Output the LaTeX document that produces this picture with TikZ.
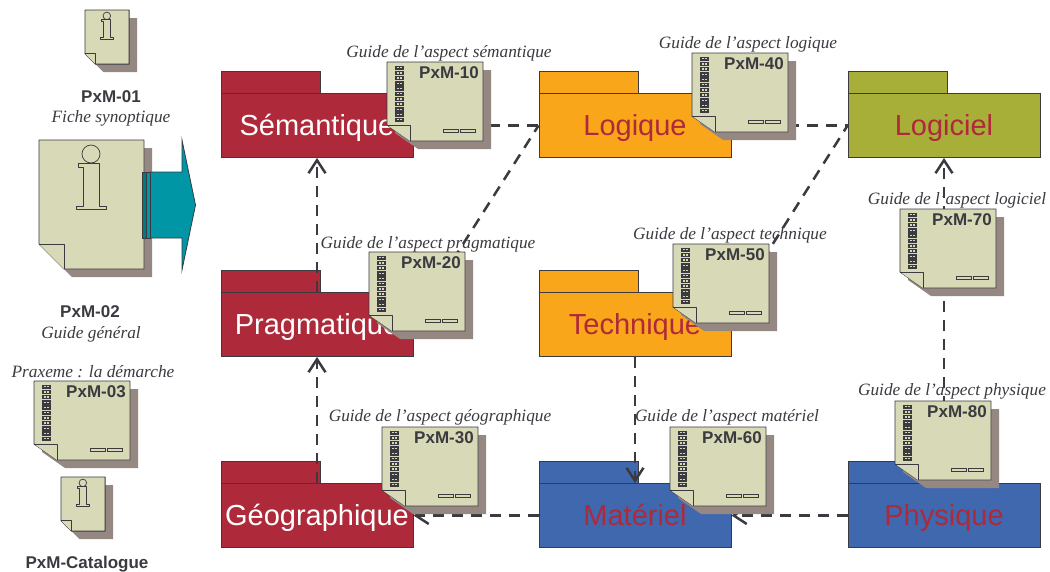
\documentclass[tikz,border=0pt]{standalone}
\usepackage{fontspec}
\setmainfont{Liberation Serif}
\setsansfont{Liberation Sans}
\usetikzlibrary{arrows.meta}
\definecolor{pkred}{HTML}{AE2A3B}
\definecolor{pkorange}{HTML}{FAA61A}
\definecolor{pkolive}{HTML}{A8AF38}
\definecolor{pkblue}{HTML}{3F68AF}
\definecolor{docfill}{HTML}{D8D9B7}
\definecolor{docshadow}{HTML}{958782}
\definecolor{inkdark}{HTML}{3A3A40}
\definecolor{tealfill}{HTML}{0096A6}
\tikzset{
  pkgbox/.style={draw=inkdark,line width=.9pt,inner sep=0pt},
  pkgtext/.style={font=\sffamily\fontsize{29}{29}\selectfont,minimum width=192pt,minimum height=64pt,draw=inkdark,line width=.9pt,inner sep=0pt,text height=20pt,text depth=0pt},
  pageline/.style={draw=inkdark,line width=.9pt,fill=docfill,line join=round},
  pageshadow/.style={fill=docshadow},
  flowplain/.style={draw=inkdark,line width=2.5pt,dash pattern=on 11pt off 8pt},
  flow/.style={flowplain,-{Straight Barb[length=13pt,width=17pt,line width=2.5pt]}},
  pxmlabel/.style={font=\sffamily\bfseries\fontsize{17}{17}\selectfont,text=inkdark,inner sep=0pt},
  guidelabel/.style={font=\itshape\fontsize{17.3}{18}\selectfont,text=inkdark,inner sep=0pt},
}
% package: name, x, y, fill, text colour, label
\newcommand{\pkgshape}[6]{%
  \node[pkgbox,fill=#4,minimum width=99pt,minimum height=23pt,anchor=north west] (#1tab) at (#2,#3) {};
  \node[pkgtext,fill=#4,text=#5] (#1) at (#2+96,#3+54.5) {#6};
}
% sheet with spiral: name, x, y, label
\newcommand{\guidesheet}[4]{%
  \begin{scope}[shift={(#2,#3)}]
    \fill[pageshadow] (8,8) -- (104,8) -- (104,87) -- (31,87) -- (8,71) -- cycle;
    \draw[pageline] (0,0) -- (96,0) -- (96,79) -- (23,79) -- (0,63) -- cycle;
    \draw[pageline] (0,63) -- (23,63) -- (23,79);
    \foreach \r in {0,...,10}{
      \fill[inkdark] (8,3.5+5.2*\r) rectangle (17,7.9+5.2*\r);
      \fill[docfill] (9.6,5+5.2*\r) rectangle (11.8,6.4+5.2*\r);
      \fill[docfill] (13.2,5+5.2*\r) rectangle (15.4,6.4+5.2*\r);
    }
    \draw[draw=inkdark,line width=.7pt,fill=docfill] (56,67) rectangle (71,70);
    \draw[draw=inkdark,line width=.7pt,fill=docfill] (73,67) rectangle (88,70);
    \node[pxmlabel] (#1) at (62,11) {#4};
  \end{scope}
}
% info sheet: x, y, scale
\newcommand{\infosheet}[3]{%
  \begin{scope}[shift={(#1,#2)},scale=#3]
    \fill[pageshadow] (8/#3,8/#3) -- (105+8/#3,8/#3) -- (105+8/#3,129+8/#3) -- (25+8/#3,129+8/#3) -- (8/#3,104+8/#3) -- cycle;
    \draw[pageline] (0,0) -- (105,0) -- (105,129) -- (25,129) -- (0,104) -- cycle;
    \draw[pageline] (0,104) -- (25,104) -- (25,129);
    \draw[pageline,line width=.7pt] (52,14) circle (9);
    \draw[pageline,line width=.7pt] (39,23) -- (60.5,23) -- (60.5,66) -- (67,66) -- (67,69.5) -- (37,69.5) -- (37,66) -- (44,66) -- (44,27) -- (39,27) -- cycle;
  \end{scope}
}
\begin{document}
\begin{tikzpicture}[x=1pt,y=-1pt]
\useasboundingbox (0,0) rectangle (1050,571);
% packages
\pkgshape{sem}{221}{71}{pkred}{white}{Sémantique}
\pkgshape{log}{539}{71}{pkorange}{pkred}{Logique}
\pkgshape{sof}{848}{71}{pkolive}{pkred}{Logiciel}
\pkgshape{pra}{221}{270}{pkred}{white}{Pragmatique}
\pkgshape{tec}{539}{270}{pkorange}{pkred}{Technique}
\pkgshape{geo}{221}{461}{pkred}{white}{Géographique}
\pkgshape{mat}{539}{461}{pkblue}{pkred}{Matériel}
\pkgshape{phy}{848}{461}{pkblue}{pkred}{Physique}
% connectors
\draw[flowplain] (sem.east) -- (log.west);
\draw[flowplain] (log.east) -- (sof.west);
\draw[flow] (pra.north) -- (sem.south);
\draw[flow] (geo.north) -- (pra.south);
\draw[flowplain] ([xshift=19pt]pra.north east) -- (log.west);
\draw[flowplain] ([xshift=11pt]tec.north east) -- (sof.west);
\draw[flow] (tec.south) -- (mat.north);
\draw[flow] (phy.north) -- (sof.south);
\draw[flow] (phy.west) -- (mat.east);
\draw[flow] (mat.west) -- (geo.east);
% guide sheets
\guidesheet{d10}{387}{62}{PxM-10}
\guidesheet{d20}{369}{252}{PxM-20}
\guidesheet{d30}{382}{427}{PxM-30}
\guidesheet{d40}{692}{53}{PxM-40}
\guidesheet{d50}{673}{244}{PxM-50}
\guidesheet{d60}{670}{427}{PxM-60}
\guidesheet{d70}{900}{209}{PxM-70}
\guidesheet{d80}{895}{401}{PxM-80}
\guidesheet{d03}{34}{381}{PxM-03}
% guide labels
\node[guidelabel] (g10) at (449,53) {Guide de l’aspect sémantique};
\node[guidelabel] (g40) at (748,44) {Guide de l’aspect logique};
\node[guidelabel] (g20) at (428,244) {Guide de l’aspect pragmatique};
\node[guidelabel] (g50) at (730,235) {Guide de l’aspect technique};
\node[guidelabel] (g70) at (957,200) {Guide de l’aspect logiciel};
\node[guidelabel] (g30) at (440,417) {Guide de l’aspect géographique};
\node[guidelabel] (g60) at (727,417) {Guide de l’aspect matériel};
\node[guidelabel] (g80) at (952,391) {Guide de l’aspect physique};
% left column
\infosheet{85}{10}{.42}
\infosheet{61}{477}{.42}
\infosheet{39}{140}{1}
\draw[draw=inkdark,line width=.8pt,fill=tealfill] (150,172) -- (182,172) -- (182,140) -- (195.5,205) -- (182,270) -- (182,238) -- (150,238) -- cycle;
\draw[draw=inkdark,line width=.8pt,fill=tealfill!80!black] (142.5,172) rectangle (146,238);
\draw[draw=inkdark,line width=.8pt,fill=tealfill] (146.5,172) rectangle (150,238);
\node[pxmlabel] (p01) at (111,97) {PxM-01};
\node[guidelabel] (p01t) at (111,118) {Fiche synoptique};
\node[pxmlabel] (p02) at (90,312) {PxM-02};
\node[guidelabel] (p02t) at (91,334) {Guide général};
\node[guidelabel] (p03t) at (93,372) {Praxeme : la démarche};
\node[pxmlabel] (pcat) at (87,564) {PxM-Catalogue};
\end{tikzpicture}
\end{document}
